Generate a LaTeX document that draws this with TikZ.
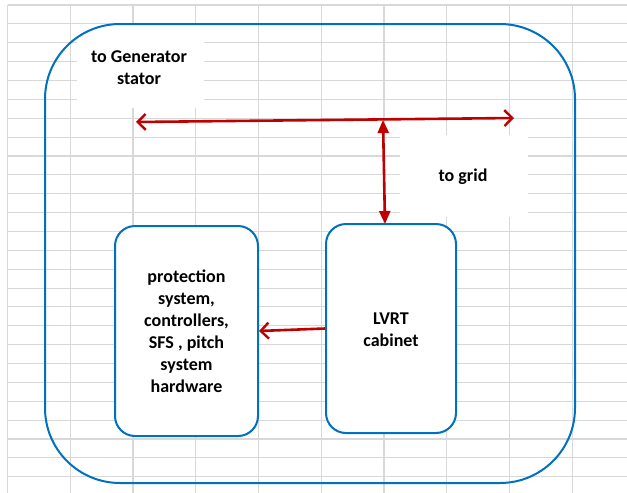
\documentclass[tikz,border=0pt]{standalone}
\usepackage{fontspec}
\setmainfont{Carlito}
\usetikzlibrary{arrows.meta}
\definecolor{frameblue}{RGB}{0,112,192}
\definecolor{linkred}{RGB}{192,0,0}
\definecolor{cellgray}{RGB}{216,216,216}
\tikzset{
  txt/.style={font=\bfseries\fontsize{18}{22}\selectfont, align=center, text=black},
  labelbox/.style={fill=white, inner sep=0pt},
  unitbox/.style={draw=frameblue, line width=2pt, fill=white, rounded corners=20pt, inner sep=0pt},
  link/.style={draw=linkred, line width=2.6pt},
}
\begin{document}
\begin{tikzpicture}[x=1pt, y=-1pt]
\useasboundingbox (0,0) rectangle (627,493);
\fill[white] (0,0) rectangle (627,493);
% spreadsheet cells behind the drawing
\foreach \k in {0,...,9} \draw[cellgray, line width=1.1pt] ({7.5+62.75*\k},5) -- ({7.5+62.75*\k},493);
\foreach \k in {0,...,25} \draw[cellgray, line width=1.1pt] (7.5,{5+18.87*\k}) -- (627,{5+18.87*\k});
% white label areas
\node[labelbox, minimum width=127pt, minimum height=84pt] (genbg) at (140,66) {};
\node[txt] (gen) at (139,68) {to Generator\\stator};
\node[labelbox, minimum width=128pt, minimum height=82pt] (gridbg) at (464,176) {};
\node[txt] (grid) at (463,177) {to grid};
% outer enclosure
\node[draw=frameblue, line width=2pt, rounded corners=75pt, minimum width=530pt, minimum height=459pt, inner sep=0pt] (outer) at (310,253.5) {};
% inner units
\node[unitbox, minimum width=143pt, minimum height=210pt] (prot) at (186.5,331) {};
\node[txt] (prott) at (186.5,331) {protection\\system,\\controllers,\\SFS , pitch\\system\\hardware};
\node[unitbox, minimum width=130pt, minimum height=209pt] (lvrt) at (391,328.5) {};
\node[txt] (lvrtt) at (391,330) {LVRT\\cabinet};
% connections
\coordinate (gl) at (136,122);
\coordinate (gr) at (514,118);
\coordinate (jt) at (383,120);
\coordinate (jb) at (385,224);
\draw[link, {Straight Barb[length=8pt, width=16pt, line width=2.4pt]}-{Straight Barb[length=8pt, width=16pt, line width=2.4pt]}] (gl) -- (gr);
\draw[link, {Triangle[length=13pt, width=11pt]}-{Triangle[length=13pt, width=11pt]}] (jt) -- (jb);
\draw[link, -{Straight Barb[length=8pt, width=16pt, line width=2.4pt]}] (lvrt.west) -- (prot.east);
\end{tikzpicture}
\end{document}
